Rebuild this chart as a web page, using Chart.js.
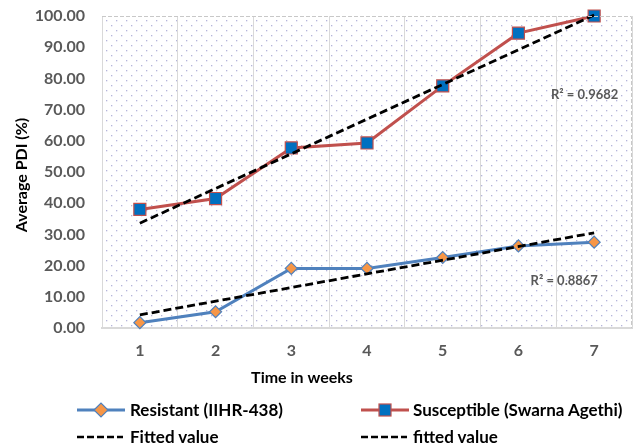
<!DOCTYPE html>
<html>
<head>
<meta charset="utf-8">
<script src="https://cdn.jsdelivr.net/npm/chart.js@4.4.0/dist/chart.umd.min.js"></script>
<style>
  html, body { margin: 0; padding: 0; background: #fff; }
  #wrap { position: relative; width: 636px; height: 448px; overflow: hidden; }
  canvas { position: absolute; left: 0; top: 0; }
  .leg { position: absolute; height: 20px; font-family: Lato, "Liberation Sans", sans-serif; font-weight: bold; font-size: 17px; color: #000; white-space: nowrap; line-height: 20px; }
  .leg svg { position: absolute; left: 0; top: 0; }
  .leg span { position: absolute; top: 0; }
</style>
</head>
<body>
<div id="wrap">
  <canvas id="c" width="636" height="448"></canvas>
  <div class="leg" style="left:77px; top:400px;">
    <svg width="48" height="20"><line x1="0" y1="10" x2="48" y2="10" stroke="#4f81bd" stroke-width="3"/><polygon points="17,10 24,3 31,10 24,17" fill="#f79646" stroke="#4f81bd" stroke-width="1.2"/></svg>
    <span style="left:53px;">Resistant (IIHR-438)</span>
  </div>
  <div class="leg" style="left:361px; top:400px;">
    <svg width="48" height="20"><line x1="0" y1="10" x2="48" y2="10" stroke="#c0504d" stroke-width="3"/><rect x="18" y="4" width="12" height="12" fill="#0070c0" stroke="#c0504d" stroke-width="1.2"/></svg>
    <span style="left:52px;">Susceptible (Swarna Agethi)</span>
  </div>
  <div class="leg" style="left:77px; top:427px;">
    <svg width="48" height="20"><line x1="0" y1="10" x2="46" y2="10" stroke="#000" stroke-width="2.5" stroke-dasharray="7,3"/></svg>
    <span style="left:53px;">Fitted value</span>
  </div>
  <div class="leg" style="left:361px; top:427px;">
    <svg width="48" height="20"><line x1="0" y1="10" x2="46" y2="10" stroke="#000" stroke-width="2.5" stroke-dasharray="7,3"/></svg>
    <span style="left:52px;">fitted value</span>
  </div>
</div>
<script>
// ---- data ----
const weeks = ['1', '2', '3', '4', '5', '6', '7'];
const resistant = [1.7, 5.2, 19.1, 19.1, 22.6, 26.3, 27.5];
const susceptible = [38.0, 41.5, 57.7, 59.3, 77.6, 94.5, 100.0];
// fitted trend lines: value at week 1 and week 7
const resistantFitWeeks = ['1', '7'];
const resistantFit = [4.2, 30.5];
const susceptibleFitWeeks = ['1', '7'];
const susceptibleFit = [33.6, 100.3];
const r2Labels = ['R\u00B2 = 0.9682', 'R\u00B2 = 0.8867'];
const yTicks = { min: 0, max: 100, step: 10 };
const xTitle = 'Time in weeks';
const yTitle = 'Average PDI (%)';

const FONT = 'Lato, "Liberation Sans", sans-serif';

const bgPlugin = {
  id: 'bgPlugin',
  beforeDraw(chart) {
    const { ctx, chartArea: a } = chart;
    ctx.save();
    ctx.fillStyle = '#b4b4da';
    let row = 0;
    for (let y = a.top + 4; y < a.bottom - 1; y += 5, row++) {
      const off = (row % 2) ? 5 : 0;
      for (let x = a.left + 4 + off; x < a.right - 1; x += 10) {
        ctx.fillRect(x, y, 1.3, 1.3);
      }
    }
    ctx.restore();
  },
  afterDraw(chart) {
    const { ctx, chartArea: a } = chart;
    ctx.save();
    ctx.strokeStyle = '#c8c8c8';
    ctx.lineWidth = 1;
    ctx.setLineDash([4, 2]);
    ctx.beginPath();
    ctx.moveTo(a.left, a.top + 0.5);
    ctx.lineTo(a.right - 0.5, a.top + 0.5);
    ctx.lineTo(a.right - 0.5, a.bottom);
    ctx.stroke();
    ctx.restore();
  }
};

const textPlugin = {
  id: 'textPlugin',
  afterDatasetsDraw(chart, args, opts) {
    const { ctx, scales: { x, y } } = chart;
    ctx.save();
    ctx.font = 'bold 13px ' + FONT;
    ctx.fillStyle = '#595959';
    ctx.textAlign = 'left';
    ctx.textBaseline = 'middle';
    opts.items.forEach(it => {
      ctx.fillText(it.text, x.getPixelForValue(it.xi), y.getPixelForValue(it.yv));
    });
    // axis titles
    ctx.fillStyle = '#000';
    ctx.font = 'bold 16px ' + FONT;
    ctx.textAlign = 'center';
    ctx.fillText(xTitle, opts.xTitlePos[0], opts.xTitlePos[1]);
    ctx.translate(opts.yTitlePos[0], opts.yTitlePos[1]);
    ctx.rotate(-Math.PI / 2);
    ctx.fillText(yTitle, 0, 0);
    ctx.restore();
  }
};

new Chart(document.getElementById('c'), {
  type: 'line',
  data: {
    labels: weeks,
    datasets: [
      {
        label: 'Resistant (IIHR-438)',
        data: resistant,
        borderColor: '#4f81bd',
        borderWidth: 3,
        backgroundColor: '#f79646',
        pointStyle: 'rectRot',
        pointRadius: 6,
        pointBorderColor: '#4f81bd',
        pointBorderWidth: 1.2,
        tension: 0,
        order: 2
      },
      {
        label: 'Susceptible (Swarna Agethi)',
        data: susceptible,
        borderColor: '#c0504d',
        borderWidth: 3,
        backgroundColor: '#0070c0',
        pointStyle: 'rect',
        pointRadius: 8.5,
        pointBorderColor: '#c0504d',
        pointBorderWidth: 1.2,
        tension: 0,
        order: 2
      },
      {
        label: 'Fitted value',
        data: resistantFitWeeks.map((w, i) => ({ x: w, y: resistantFit[i] })),
        borderColor: '#000',
        borderWidth: 2.8,
        borderDash: [8, 4],
        pointRadius: 0,
        order: 1
      },
      {
        label: 'fitted value',
        data: susceptibleFitWeeks.map((w, i) => ({ x: w, y: susceptibleFit[i] })),
        borderColor: '#000',
        borderWidth: 2.8,
        borderDash: [8, 4],
        pointRadius: 0,
        order: 1
      }
    ]
  },
  options: {
    responsive: false,
    animation: false,
    clip: false,
    layout: { autoPadding: false, padding: { top: 16, right: 4, bottom: 60, left: 0 } },
    plugins: {
      legend: { display: false },
      tooltip: { enabled: false },
      textPlugin: {
        items: [
          { text: r2Labels[0], xi: 5.43, yv: 74.7 },
          { text: r2Labels[1], xi: 5.16, yv: 15.1 }
        ],
        xTitlePos: [302, 378],
        yTitlePos: [22, 175]
      }
    },
    scales: {
      x: {
        type: 'category',
        offset: true,
        afterFit(s) { s.height = 60; },
        grid: {
          offset: true,
          drawTicks: false,
          color: (c) => (c.index === weeks.length ? 'rgba(0,0,0,0)' : '#d9d9d9'),
          lineWidth: 1
        },
        border: { display: true, color: '#d9d9d9', width: 2 },
        ticks: {
          padding: 13,
          color: '#595959',
          font: { family: FONT, weight: 'bold', size: 16 }
        }
      },
      y: {
        min: yTicks.min,
        max: yTicks.max,
        afterFit(s) { s.width = 102; s.paddingTop = 0; s.paddingBottom = 0; },
        grid: { display: false, drawTicks: false },
        border: { display: true, color: '#d9d9d9', width: 1 },
        ticks: {
          stepSize: yTicks.step,
          padding: 17,
          color: '#595959',
          font: { family: FONT, weight: 'bold', size: 16 },
          callback: (v) => Number(v).toFixed(2)
        }
      }
    }
  },
  plugins: [bgPlugin, textPlugin]
});
</script>
</body>
</html>
